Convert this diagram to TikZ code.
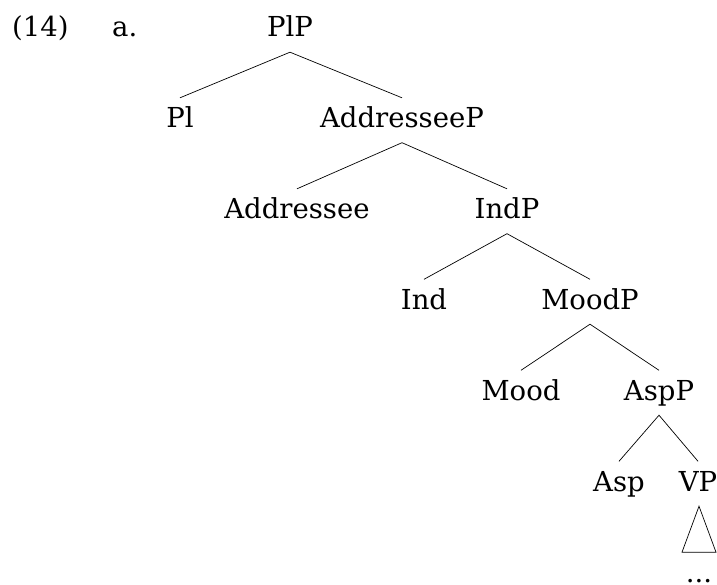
\documentclass[tikz,border=0pt]{standalone}
\IfFileExists{bchr8t.tfm}{%
  \usepackage[T1]{fontenc}\usepackage{charter}%
  \newcommand\treesize{\fontsize{29}{34}\selectfont}}{%
  \usepackage{fontspec}\setmainfont{DejaVu Serif}%
  \newcommand\treesize{\fontsize{27.5}{33}\selectfont}}
\begin{document}
\begin{tikzpicture}[x=1pt,y=-1pt,
  every node/.style={font=\treesize},
  lab/.style={anchor=base, inner xsep=0pt, inner ysep=10pt,
              text height=19.5pt, text depth=5pt},
  branch/.style={line width=0.7pt}]
\useasboundingbox (0,0) rectangle (717,585);

% example number and item label
\node[anchor=base west, inner sep=0pt] (num) at (12,37) {(14)};
\node[anchor=base west, inner sep=0pt] (item) at (112,37) {a.};

% tree nodes
\node[lab] (plp)   at (290,37)    {PlP};
\node[lab] (pl)    at (180,127.5) {Pl};
\node[lab] (addp)  at (402,127.5) {AddresseeP};
\node[lab] (add)   at (297,218.5) {Addressee};
\node[lab] (indp)  at (507,218.5) {IndP};
\node[lab] (ind)   at (424,309)   {Ind};
\node[lab] (moodp) at (590,309)   {MoodP};
\node[lab] (mood)  at (521,400)   {Mood};
\node[lab] (aspp)  at (659,400)   {AspP};
\node[lab] (asp)   at (619,491)   {Asp};
\node[lab] (vp)    at (698,491)   {VP};
\node[anchor=base, inner sep=0pt] (dots) at (699,582) {...};

% branches
\draw[branch] (pl.north) -- (plp.south) -- (addp.north);
\draw[branch] (add.north) -- (addp.south) -- (indp.north);
\draw[branch] (ind.north) -- (indp.south) -- (moodp.north);
\draw[branch] (mood.north) -- (moodp.south) -- (aspp.north);
\draw[branch] (asp.north) -- (aspp.south) -- (vp.north);

% roof over the VP
\draw[branch, line join=miter] ([xshift=1pt]vp.south) -- ++(-17,46) -- ++(34,0) -- cycle;
\end{tikzpicture}
\end{document}
